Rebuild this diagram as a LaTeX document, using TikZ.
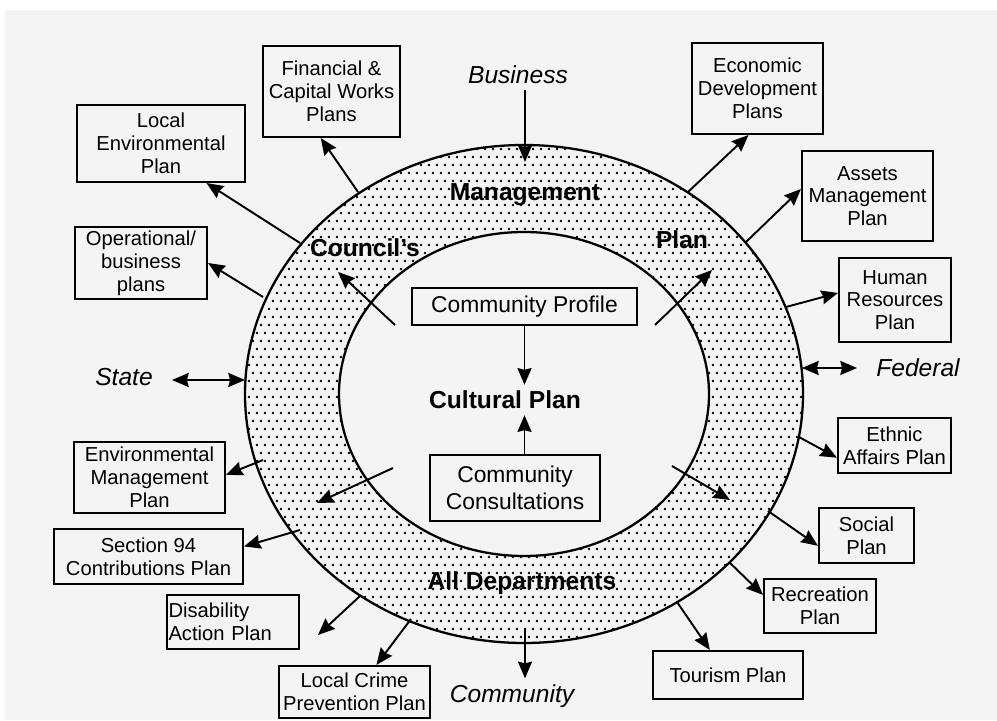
\documentclass[tikz,border=0pt]{standalone}
\usepackage{fontspec}
\setmainfont{Liberation Sans}
\usetikzlibrary{arrows.meta}
\definecolor{scan}{gray}{0.955}

\begin{document}
\begin{tikzpicture}[x=0.02cm, y=0.02cm,
	plan/.style={draw, line width=1.2pt, align=center, inner sep=1pt, font=\fontsize{11.5}{13}\selectfont},
	hub/.style={draw, line width=1.2pt, align=center, inner sep=1pt, font=\fontsize{13}{15}\selectfont},
	ring/.style={font=\fontsize{14}{16}\selectfont\bfseries},
	party/.style={font=\fontsize{14}{16}\selectfont\itshape},
	arr/.style={line width=1.1pt, -{Stealth[length=9.5pt, width=8pt, inset=1pt]}},
	darr/.style={line width=1.1pt, {Stealth[length=9.5pt, width=8pt, inset=1pt]}-{Stealth[length=9.5pt, width=8pt, inset=1pt]}}]
	\useasboundingbox (0,0) rectangle (997,720);
	\fill[scan] (5,0) rectangle (997,710);
	\coordinate (ctr) at (524,326);
	\begin{scope}
		\clip (ctr) ellipse [x radius=279, y radius=249];
		\foreach \j in {0,...,63}
			\foreach \i in {0,...,70}
				\fill ({245+8*\i+4*mod(\j,2)},{75+8*\j}) circle [radius=1.4];
	\end{scope}
	\fill[scan] (ctr) ellipse [x radius=185, y radius=162];
	\draw[line width=1.3pt] (ctr) ellipse [x radius=279, y radius=249];
	\draw[line width=1.3pt] (ctr) ellipse [x radius=185, y radius=162];

	\node[ring] (mgmt) at (525,525) {Management};
	\node[ring] (council) at (365,472) {Council's};
	\node[ring] (planword) at (682,480) {Plan};
	\node[ring] (alldep) at (522,137) {All Departments};
	\node[ring] (cultural) at (505,320) {Cultural Plan};

	\node[hub, minimum width=4.5cm, minimum height=0.74cm] (profile) at (524.5,413.5) {Community Profile};
	\node[hub, minimum width=3.4cm, minimum height=1.32cm] (consult) at (515,232) {Community\\Consultations};

	\node[plan, minimum width=2.74cm, minimum height=1.82cm] (finance) at (331.5,628.5) {Financial \&\\Capital Works\\Plans};
	\node[plan, minimum width=3.36cm, minimum height=1.54cm] (lep) at (161,576.5) {Local\\Environmental\\Plan};
	\node[plan, minimum width=2.64cm, minimum height=1.44cm] (ops) at (141,457) {Operational/\\business\\plans};
	\node[plan, minimum width=2.62cm, minimum height=1.82cm] (econ) at (757.5,631.5) {Economic\\Development\\Plans};
	\node[plan, minimum width=2.62cm, minimum height=1.8cm] (assets) at (867.5,524) {Assets\\Management\\Plan};
	\node[plan, minimum width=2.24cm, minimum height=1.68cm] (hr) at (895,420) {Human\\Resources\\Plan};
	\node[plan, minimum width=2.26cm, minimum height=1.1cm] (ethnic) at (894.5,274.5) {Ethnic\\Affairs Plan};
	\node[plan, minimum width=1.9cm, minimum height=1.1cm] (social) at (866.5,184.5) {Social\\Plan};
	\node[plan, minimum width=2.24cm, minimum height=1.08cm] (recreation) at (820,114) {Recreation\\Plan};
	\node[plan, minimum width=3cm, minimum height=0.96cm] (tourism) at (728,45) {Tourism Plan};
	\node[plan, minimum width=3.02cm, minimum height=1.42cm] (envman) at (149.5,242.5) {Environmental\\Management\\Plan};
	\node[plan, minimum width=3.78cm, minimum height=1.1cm] (sec94) at (148.5,163.5) {Section 94\\Contributions Plan};
	\node[plan, text width=2.58cm, align=left, minimum height=1.08cm] (disab) at (233,98) {Disability\\Action Plan};
	\node[plan, minimum width=3.02cm, minimum height=1.04cm] (crime) at (354.5,28) {Local Crime\\Prevention Plan};

	\node[party] (business) at (518,645) {Business};
	\node[party] (community) at (512,24) {Community};
	\node[party] (state) at (124,343) {State};
	\node[party] (federal) at (918,352) {Federal};

	\coordinate (bizin) at (525,558);
	\coordinate (comout) at (525,92);
	\coordinate (stateend) at (172,340);
	\coordinate (statering) at (245,340);
	\coordinate (fedring) at (802,352);
	\coordinate (fedend) at (857,352);
	\draw[arr] (business.south -| bizin) -- (bizin);
	\draw[arr] (comout) -- (comout |- community.north);
	\draw[darr] (stateend) -- (statering);
	\draw[darr] (fedring) -- (fedend);

	\draw[arr] (profile.south) -- (profile.south |- cultural.north);
	\draw[arr] (consult.north -| profile.south) -- (profile.south |- cultural.south);

	\coordinate (o1) at (358,528);
	\coordinate (o2) at (300,477);
	\coordinate (o3) at (263,423);
	\coordinate (o4) at (688,528);
	\coordinate (o5) at (746,478);
	\coordinate (o6) at (786,413);
	\coordinate (o7) at (799,283);
	\coordinate (o8) at (768,209);
	\coordinate (o9) at (730,157);
	\coordinate (o10) at (677,118);
	\coordinate (o11) at (263,260);
	\coordinate (o12) at (300,190);
	\coordinate (o13) at (360,124);
	\coordinate (o14) at (411,101);
	\coordinate (disend) at (318,85);
	\draw[arr] (o1) -- (finance.-103);
	\draw[arr] (o2) -- (lep.-41);
	\draw[arr] (o3) -- (ops.east);
	\draw[arr] (o4) -- (econ.-101);
	\draw[arr] (o5) -- (assets.174);
	\draw[arr] (o6) -- (hr.173);
	\draw[arr] (o7) -- (ethnic.-168);
	\draw[arr] (o8) -- (social.-168);
	\draw[arr] (o9) -- (recreation.169);
	\draw[arr] (o10) -- (tourism.126);
	\draw[arr] (o11) -- (envman.2);
	\draw[arr] (o12) -- (sec94.6);
	\draw[arr] (o13) -- (disend);
	\draw[arr] (o14) -- (crime.51);

	\coordinate (i1s) at (395,395);
	\coordinate (i1e) at (338,448);
	\coordinate (i2s) at (655,395);
	\coordinate (i2e) at (712,450);
	\coordinate (i3s) at (393,252);
	\coordinate (i3e) at (317,217);
	\coordinate (i4s) at (672,254);
	\coordinate (i4e) at (730,220);
	\draw[arr] (i1s) -- (i1e);
	\draw[arr] (i2s) -- (i2e);
	\draw[arr] (i3s) -- (i3e);
	\draw[arr] (i4s) -- (i4e);
\end{tikzpicture}
\end{document}
